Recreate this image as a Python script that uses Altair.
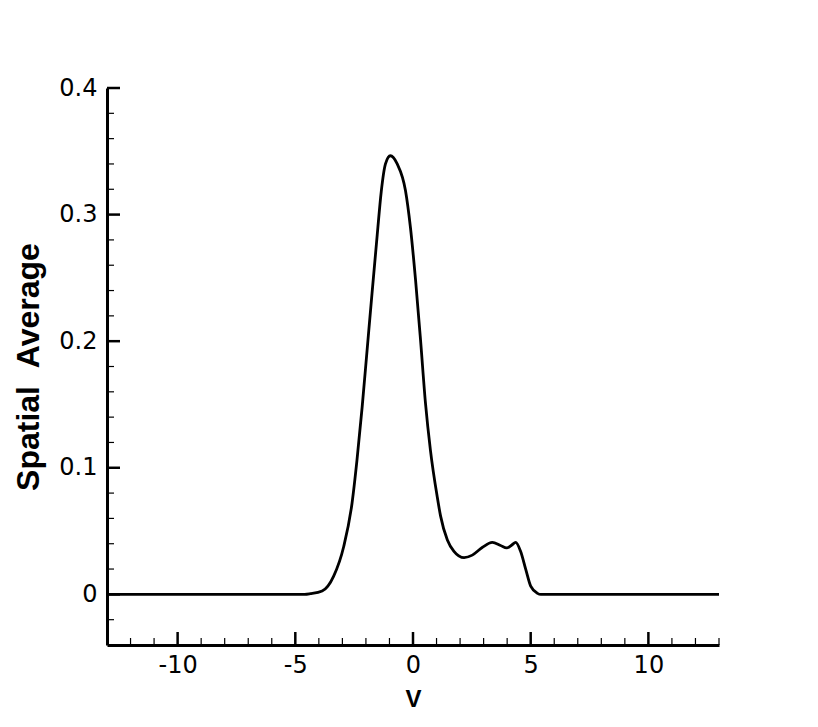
import altair as alt
import pandas as pd

# curve data
v_vals = [-13.0, -4.6, -4.36, -3.86, -3.37, -2.94, -2.59, -2.38, -2.16, -1.95, -1.74,
          -1.52, -1.35, -1.17, -0.96, -0.67, -0.32, -0.11, 0.11, 0.32, 0.53, 0.74,
          1.03, 1.17, 1.46, 1.74, 2.17, 2.52, 2.94, 3.37, 3.72, 3.98, 4.2, 4.36,
          4.57, 4.79, 5.0, 5.29, 5.43, 13.0]
avg_vals = [0.0, 0.0, 0.0005, 0.0026, 0.0144, 0.038, 0.072, 0.106, 0.148, 0.193, 0.238,
            0.284, 0.318, 0.340, 0.3465, 0.340, 0.319, 0.290, 0.248, 0.201, 0.151, 0.114,
            0.077, 0.062, 0.043, 0.034, 0.029, 0.031, 0.037, 0.041, 0.0386, 0.0367, 0.039, 0.041,
            0.034, 0.0197, 0.0065, 0.0008, 0.0, 0.0]

x_major = [-10, -5, 0, 5, 10]
x_minor = [i for i in range(-12, 14) if i % 5 != 0]
y_major = [0.0, 0.1, 0.2, 0.3, 0.4]
y_minor = [round(-0.02 + 0.02 * i, 2) for i in range(0, 21) if i % 5 != 1]

W, H = 612, 557
LFONT = "DejaVu Sans"
TFONT = "Liberation Sans"

xs = alt.Scale(domain=[-13, 13], nice=False, zero=False)
ys = alt.Scale(domain=[-0.04, 0.4], nice=False, zero=False)

df = pd.DataFrame({"v": v_vals, "avg": avg_vals})

curve = alt.Chart(df).mark_line(color="black", strokeWidth=2.8, interpolate="monotone").encode(
    x=alt.X("v:Q", scale=xs,
            axis=alt.Axis(values=x_major, title="V", ticks=False, grid=False,
                          labelExpr="toString(datum.value)",
                          domainColor="black", domainWidth=3,
                          labelFont=LFONT, labelFontSize=24, labelColor="black",
                          labelPadding=8, labelFlush=False,
                          titleFont=TFONT, titleFontSize=24, titleFontWeight="bold",
                          titleColor="black", titlePadding=10)),
    y=alt.Y("avg:Q", scale=ys,
            axis=alt.Axis(values=y_major, title="Spatial\u00a0\u00a0Average", ticks=False, grid=False,
                          labelExpr="toString(datum.value)",
                          domainColor="black", domainWidth=3,
                          labelFont=LFONT, labelFontSize=24, labelColor="black",
                          labelPadding=10, labelFlush=False,
                          titleFont=TFONT, titleFontSize=32, titleFontWeight="bold",
                          titleColor="black", titlePadding=13)),
)

xmaj = alt.Chart(pd.DataFrame({"t": x_major})).mark_rule(color="black", strokeWidth=2.5).encode(
    x=alt.X("t:Q", scale=xs), y=alt.value(H), y2=alt.value(H - 13))
xmin = alt.Chart(pd.DataFrame({"t": x_minor})).mark_rule(color="black", strokeWidth=1.2).encode(
    x=alt.X("t:Q", scale=xs), y=alt.value(H), y2=alt.value(H - 7))
ymaj = alt.Chart(pd.DataFrame({"t": y_major})).mark_rule(color="black", strokeWidth=2.5).encode(
    y=alt.Y("t:Q", scale=ys), x=alt.value(0), x2=alt.value(13))
ymin = alt.Chart(pd.DataFrame({"t": y_minor})).mark_rule(color="black", strokeWidth=1.2).encode(
    y=alt.Y("t:Q", scale=ys), x=alt.value(0), x2=alt.value(7))

chart = alt.layer(curve, xmaj, xmin, ymaj, ymin).properties(
    width=W, height=H,
    autosize=alt.AutoSizeParams(type="none"),
    padding={"left": 99, "top": 80, "right": 90, "bottom": 74},
    background="white",
).configure_view(stroke=None)

chart.save("out.html", embed_options={"renderer": "svg", "actions": False})
